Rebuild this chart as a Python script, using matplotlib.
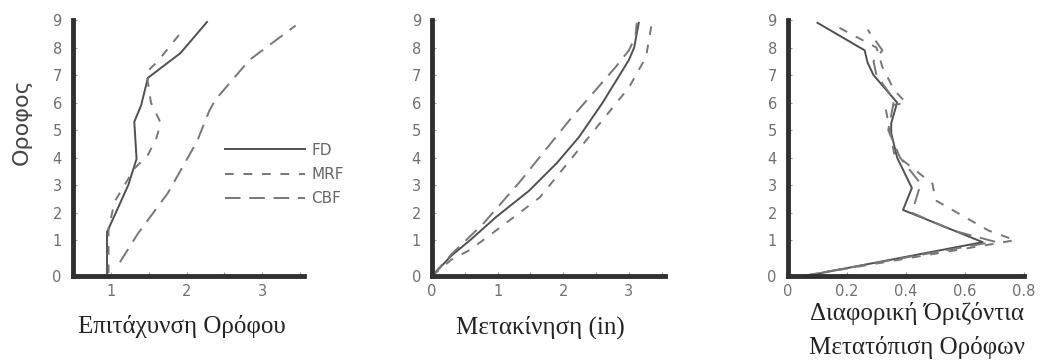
import matplotlib
matplotlib.use("Agg")
import matplotlib.pyplot as plt
import numpy as np

# floor labels; the "0" sits at the bottom of each axis (slightly below linear)
floor_pos = [-0.3, 1, 2, 3, 4, 5, 6, 7, 8, 9]
floor_lab = ["0", "1", "2", "3", "4", "5", "6", "7", "8", "9"]

# panel 1: floor acceleration
acc_fd_x = [0.95, 0.95, 1.05, 1.23, 1.34, 1.31, 1.40, 1.49, 1.92, 2.27]
acc_fd_y = [-0.2, 1.3, 1.9, 3.0, 3.95, 5.3, 5.9, 6.9, 7.8, 8.93]
acc_mrf_x = [0.97, 0.97, 1.05, 1.31, 1.49, 1.60, 1.66, 1.53, 1.47, 1.62, 1.97]
acc_mrf_y = [-0.2, 1.4, 2.4, 3.6, 4.1, 4.7, 5.25, 6.0, 7.1, 7.5, 8.7]
acc_cbf_x = [1.12, 1.36, 1.75, 2.14, 2.30, 2.38, 2.83, 3.44]
acc_cbf_y = [0.2, 1.25, 2.7, 4.6, 5.7, 6.1, 7.55, 8.8]

# panel 2: displacement (in)
dsp_fd_x = [0, 0.3, 0.58, 0.98, 1.48, 1.9, 2.24, 2.6, 3.0, 3.08, 3.15]
dsp_fd_y = [-0.3, 0.45, 1.0, 1.85, 2.8, 3.8, 4.75, 6.0, 7.55, 8.0, 8.9]
dsp_mrf_x = [0, 0.3, 0.58, 1.03, 1.64, 2.39, 3.0, 3.26, 3.35]
dsp_mrf_y = [-0.3, 0.3, 0.65, 1.45, 2.55, 4.75, 6.55, 7.65, 8.9]
dsp_cbf_x = [0, 0.3, 0.78, 1.33, 2.09, 2.8, 3.0, 3.1, 3.12]
dsp_cbf_y = [-0.3, 0.5, 1.6, 3.1, 5.35, 7.3, 7.9, 8.4, 8.9]

# panel 3: interstorey drift
drf_fd_x = [0.06, 0.66, 0.39, 0.42, 0.37, 0.35, 0.35, 0.37, 0.29, 0.27, 0.26, 0.10]
drf_fd_y = [-0.3, 0.93, 2.1, 2.9, 4.0, 4.9, 5.25, 6.0, 7.0, 7.45, 7.9, 8.9]
drf_mrf_x = [0.05, 0.77, 0.68, 0.50, 0.49, 0.36, 0.33, 0.40, 0.36, 0.32, 0.30, 0.16]
drf_mrf_y = [-0.3, 1.0, 1.35, 2.45, 3.05, 4.15, 5.85, 6.0, 6.45, 7.3, 8.0, 8.8]
drf_cbf_x = [0.05, 0.70, 0.56, 0.42, 0.45, 0.38, 0.34, 0.36, 0.30, 0.29, 0.32, 0.27]
drf_cbf_y = [-0.3, 0.95, 1.35, 2.0, 3.05, 4.0, 5.0, 6.1, 7.0, 7.5, 7.9, 8.65]

series_names = ["FD", "MRF", "CBF"]

fd_style = dict(color="#505050", lw=1.4, ls="-")
mrf_style = dict(color="#777777", lw=1.4, ls=(0, (4.5, 5)))
cbf_style = dict(color="#777777", lw=1.4, ls=(0, (8, 4.5)))

tick_col = "#707070"
spine_col = "#303030"
serif = ["Liberation Serif", "DejaVu Serif"]

fig = plt.figure(figsize=(10.42, 3.62), dpi=100)
ax1 = fig.add_axes([0.070, 0.2376, 0.2217, 0.707])
ax2 = fig.add_axes([0.4146, 0.2376, 0.2236, 0.707])
ax3 = fig.add_axes([0.7562, 0.2376, 0.2265, 0.707])


def style_ax(ax, xlim, major, minor, fmt):
    ax.set_xlim(*xlim)
    ax.set_ylim(-0.3, 9)
    for s in ["top", "right"]:
        ax.spines[s].set_visible(False)
    for s in ["left", "bottom"]:
        ax.spines[s].set_linewidth(3.5)
        ax.spines[s].set_color(spine_col)
    ax.set_yticks(floor_pos)
    ax.set_yticklabels(floor_lab)
    ax.set_xticks(major)
    ax.set_xticklabels([fmt(v) for v in major])
    ax.set_xticks(minor, minor=True)
    ax.tick_params(axis="both", which="both", direction="in", length=3,
                   width=0.8, color="#999999", labelcolor=tick_col,
                   labelsize=10.5)
    ax.tick_params(axis="y", pad=8)
    ax.tick_params(axis="x", pad=6)


l1, = ax1.plot(acc_fd_x, acc_fd_y, **fd_style)
l2, = ax1.plot(acc_mrf_x, acc_mrf_y, **mrf_style)
l3, = ax1.plot(acc_cbf_x, acc_cbf_y, **cbf_style)
style_ax(ax1, (0.5, 3.55), [1, 2, 3], np.arange(0.5, 3.6, 0.5), lambda v: "%d" % v)

ax2.plot(dsp_fd_x, dsp_fd_y, **fd_style)
ax2.plot(dsp_mrf_x, dsp_mrf_y, **mrf_style)
ax2.plot(dsp_cbf_x, dsp_cbf_y, **cbf_style)
style_ax(ax2, (0, 3.55), [0, 1, 2, 3], np.arange(0, 3.6, 0.5), lambda v: "%d" % v)

ax3.plot(drf_fd_x, drf_fd_y, **fd_style)
ax3.plot(drf_mrf_x, drf_mrf_y, **mrf_style)
ax3.plot(drf_cbf_x, drf_cbf_y, **cbf_style)
style_ax(ax3, (0, 0.8), [0, 0.2, 0.4, 0.6, 0.8], [], lambda v: "%g" % v)

fig.legend([l1, l2, l3], series_names, loc="center left",
           bbox_to_anchor=(0.216, 0.518), frameon=False, fontsize=11,
           handlelength=5.2, handletextpad=0.45, labelspacing=0.6,
           borderpad=0, borderaxespad=0, labelcolor="#666666")

fig.text(0.021, 0.663, "Οροφος", rotation=90, ha="center", va="center",
         fontsize=16, color="#444444")
fig.text(0.175, 0.097, "Επιτάχυνση Ορόφου", ha="center", va="center",
         fontsize=18, family=serif, color="#222222")
fig.text(0.519, 0.097, "Μετακίνηση (in)", ha="center", va="center",
         fontsize=18, family=serif, color="#222222")
fig.text(0.880, 0.135, "Διαφορική Όριζόντια", ha="center", va="center",
         fontsize=18, family=serif, color="#222222")
fig.text(0.880, 0.040, "Μετατόπιση Ορόφων", ha="center", va="center",
         fontsize=18, family=serif, color="#222222")

fig.savefig("out.png", dpi=100)
